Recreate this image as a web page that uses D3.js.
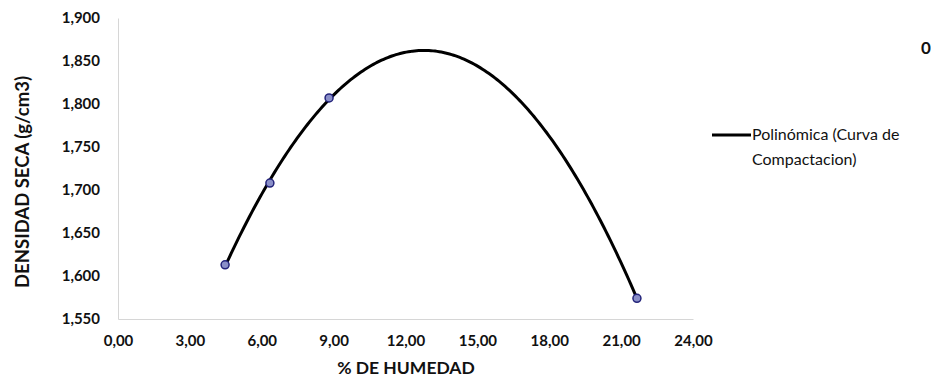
<!DOCTYPE html>
<html>
<head>
<meta charset="utf-8">
<script src="https://cdn.jsdelivr.net/npm/d3@7"></script>
<style>
  html, body { margin: 0; padding: 0; background: #fff; }
  svg { display: block; font-family: Lato, "Open Sans", sans-serif; }
</style>
</head>
<body>
<svg id="chart" width="931" height="378"></svg>
<script>
// Compaction test: moisture content (%) vs dry density (g/cm3)
const humedad  = [4.47, 6.34, 8.81, 21.66];
const densidad = [1.613, 1.708, 1.807, 1.574];
const xTicks = [0, 3, 6, 9, 12, 15, 18, 21, 24];
const yTicks = [1.55, 1.60, 1.65, 1.70, 1.75, 1.80, 1.85, 1.90];
const legendLabel = ["Polinómica (Curva de", "Compactacion)"];
const xTitle = "% DE HUMEDAD";
const yTitle = "DENSIDAD SECA (g/cm3)";

const svg = d3.select("#chart");
const x = d3.scaleLinear().domain([0, 24]).range([118, 693]);
const y = d3.scaleLinear().domain([1.55, 1.90]).range([319, 18]);

const fmt = (d, p) => d.toFixed(p).replace(".", ",");

// Second-order least-squares trendline of the measured points
function quadFit(xs, ys) {
  const n = xs.length;
  let s1 = 0, s2 = 0, s3 = 0, s4 = 0, t0 = 0, t1 = 0, t2 = 0;
  for (let i = 0; i < n; i++) {
    const a = xs[i], b = ys[i];
    s1 += a; s2 += a * a; s3 += a * a * a; s4 += a * a * a * a;
    t0 += b; t1 += a * b; t2 += a * a * b;
  }
  // Solve normal equations with Cramer's rule
  const M = [[n, s1, s2], [s1, s2, s3], [s2, s3, s4]];
  const R = [t0, t1, t2];
  const det = m => m[0][0] * (m[1][1] * m[2][2] - m[1][2] * m[2][1])
                 - m[0][1] * (m[1][0] * m[2][2] - m[1][2] * m[2][0])
                 + m[0][2] * (m[1][0] * m[2][1] - m[1][1] * m[2][0]);
  const D = det(M);
  const coef = [0, 1, 2].map(k => det(M.map((row, r) => row.map((v, c) => c === k ? R[r] : v))) / D);
  return t => coef[0] + coef[1] * t + coef[2] * t * t;
}
const trend = quadFit(humedad, densidad);

// Axes
const xAxis = d3.axisBottom(x).tickValues(xTicks).tickSize(0).tickPadding(16)
  .tickFormat(d => fmt(d, 2));
const yAxis = d3.axisLeft(y).tickValues(yTicks).tickSize(0).tickPadding(18)
  .tickFormat(d => fmt(d, 3));

const gx = svg.append("g").attr("transform", `translate(0,${y(1.55)})`).call(xAxis);
const gy = svg.append("g").attr("transform", `translate(${x(0)},0)`).call(yAxis);
[gx, gy].forEach(g => {
  g.select(".domain").attr("stroke", "#d6d6d6").attr("stroke-width", 1);
  g.selectAll("text").attr("font-size", 15).attr("font-weight", 700).attr("fill", "#111")
    .attr("font-family", "Lato, sans-serif");
});

// Trend curve over the measured range
const lo = humedad[0], hi = humedad[humedad.length - 1];
const xs = d3.range(0, 201).map(i => lo + (hi - lo) * i / 200);
svg.append("path")
  .datum(xs)
  .attr("fill", "none")
  .attr("stroke", "#000")
  .attr("stroke-width", 3)
  .attr("d", d3.line().x(d => x(d)).y(d => y(trend(d))));

// Measured points
svg.append("g").selectAll("circle")
  .data(humedad.map((h, i) => [h, densidad[i]]))
  .join("circle")
  .attr("cx", d => x(d[0]))
  .attr("cy", d => y(d[1]))
  .attr("r", 4)
  .attr("fill", "#8a8fc8")
  .attr("stroke", "#23237a")
  .attr("stroke-width", 1.5);

// Axis titles
svg.append("text")
  .attr("x", 406).attr("y", 374)
  .attr("text-anchor", "middle")
  .attr("font-size", 17.5).attr("font-weight", 700).attr("fill", "#111")
  .text(xTitle);
svg.append("text")
  .attr("transform", `translate(29,182) rotate(-90)`)
  .attr("text-anchor", "middle")
  .attr("font-size", 18.5).attr("font-weight", 700).attr("fill", "#111")
  .text(yTitle);

// Legend
svg.append("line")
  .attr("x1", 712).attr("x2", 751).attr("y1", 135).attr("y2", 135)
  .attr("stroke", "#000").attr("stroke-width", 3);
svg.append("g").selectAll("text")
  .data(legendLabel)
  .join("text")
  .attr("x", 752)
  .attr("y", (d, i) => 140 + i * 25)
  .attr("font-size", 16).attr("fill", "#111")
  .text(d => d);

// Stray label at the top right
svg.append("text")
  .attr("x", 921).attr("y", 54)
  .attr("font-size", 17).attr("font-weight", 700).attr("fill", "#111")
  .text("0");
</script>
</body>
</html>
